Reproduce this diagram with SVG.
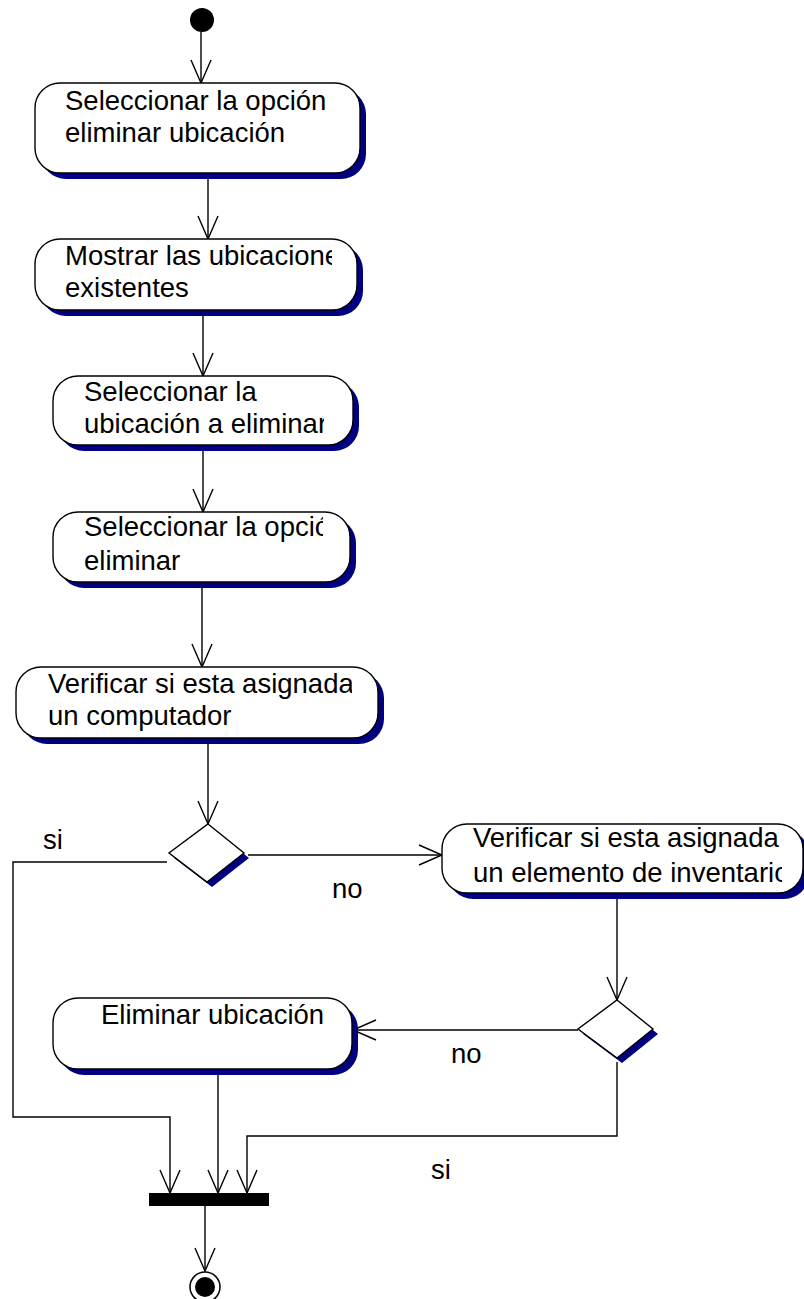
<svg xmlns="http://www.w3.org/2000/svg" width="804" height="1299" viewBox="0 0 804 1299">
<style>
.node{fill:#fff;stroke:#000;stroke-width:1.4}
.shadow{fill:#000080;stroke:none}
.t{font-family:"Liberation Sans",Arial,sans-serif;font-size:27.5px;fill:#000}
.c{fill:none;stroke:#000;stroke-width:1.4}
</style>
<defs>
<marker id="arr" markerUnits="userSpaceOnUse" markerWidth="30" markerHeight="26" viewBox="-25 -13 30 26" refX="0" refY="0" orient="auto" overflow="visible">
<path d="M-23,-10 L0,0 L-23,10" fill="none" stroke="#000" stroke-width="1.4"/>
</marker>
<clipPath id="c1"><rect x="35" y="83" width="300" height="90"/></clipPath>
<clipPath id="c2"><rect x="35" y="239" width="297" height="71"/></clipPath>
<clipPath id="c3"><rect x="53" y="376" width="271" height="69"/></clipPath>
<clipPath id="c4"><rect x="53" y="512" width="270" height="70"/></clipPath>
<clipPath id="c5"><rect x="16" y="667" width="336" height="71"/></clipPath>
<clipPath id="c6"><rect x="442" y="824" width="340" height="69"/></clipPath>
<clipPath id="c7"><rect x="53" y="998" width="280" height="71"/></clipPath>
</defs>

<g id="connectors">
<path class="c" d="M201,32 L201,83" marker-end="url(#arr)"/>
<path class="c" d="M208,173 L208,239" marker-end="url(#arr)"/>
<path class="c" d="M203,310 L203,376" marker-end="url(#arr)"/>
<path class="c" d="M203,445 L203,512" marker-end="url(#arr)"/>
<path class="c" d="M202,582 L202,667" marker-end="url(#arr)"/>
<path class="c" d="M208,738 L208,824" marker-end="url(#arr)"/>
<path class="c" d="M248,855 L442,855" marker-end="url(#arr)"/>
<path class="c" d="M167,862 L13,862 L13,1117 L170,1117 L170,1193" marker-end="url(#arr)"/>
<path class="c" d="M617,893 L617,1000" marker-end="url(#arr)"/>
<path class="c" d="M578,1030 L353,1030" marker-end="url(#arr)"/>
<path class="c" d="M218,1069 L218,1193" marker-end="url(#arr)"/>
<path class="c" d="M617,1062 L617,1136 L247,1136 L247,1193" marker-end="url(#arr)"/>
<path class="c" d="M205,1206 L205,1271" marker-end="url(#arr)"/>
</g>

<g id="labels">
<text class="t" x="43" y="849">si</text>
<text class="t" x="332" y="898">no</text>
<text class="t" x="451" y="1063">no</text>
<text class="t" x="431" y="1179">si</text>
</g>

<g id="start">
<circle cx="202" cy="20" r="12" fill="#000"/>
</g>

<g id="n1">
<rect class="shadow" x="41" y="89" width="325" height="90" rx="25"/>
<rect class="node" x="35" y="83" width="325" height="90" rx="25"/>
<g clip-path="url(#c1)">
<text class="t" x="65" y="110">Seleccionar la opción</text>
<text class="t" x="65" y="142">eliminar ubicación</text>
</g>
</g>

<g id="n2">
<rect class="shadow" x="41" y="245" width="322" height="71" rx="25"/>
<rect class="node" x="35" y="239" width="322" height="71" rx="25"/>
<g clip-path="url(#c2)">
<text class="t" x="65" y="265">Mostrar las ubicaciones</text>
<text class="t" x="65" y="297">existentes</text>
</g>
</g>

<g id="n3">
<rect class="shadow" x="59" y="382" width="300" height="69" rx="25"/>
<rect class="node" x="53" y="376" width="300" height="69" rx="25"/>
<g clip-path="url(#c3)">
<text class="t" x="84" y="401">Seleccionar la</text>
<text class="t" x="84" y="433">ubicación a eliminar</text>
</g>
</g>

<g id="n4">
<rect class="shadow" x="59" y="518" width="297" height="70" rx="25"/>
<rect class="node" x="53" y="512" width="297" height="70" rx="25"/>
<g clip-path="url(#c4)">
<text class="t" x="84" y="536">Seleccionar la opción</text>
<text class="t" x="84" y="570">eliminar</text>
</g>
</g>

<g id="n5">
<rect class="shadow" x="22" y="673" width="362" height="71" rx="25"/>
<rect class="node" x="16" y="667" width="362" height="71" rx="25"/>
<g clip-path="url(#c5)">
<text class="t" x="48" y="693">Verificar si esta asignada</text>
<text class="t" x="48" y="725">un computador</text>
</g>
</g>

<g id="d1">
<polygon class="shadow" points="213,829 249,858 212,887 174,858"/>
<polygon class="node" points="208,824 244,853 207,882 169,853"/>
</g>

<g id="n6">
<rect class="shadow" x="448" y="830" width="361" height="69" rx="25"/>
<rect class="node" x="442" y="824" width="361" height="69" rx="25"/>
<g clip-path="url(#c6)">
<text class="t" x="473" y="847">Verificar si esta asignada</text>
<text class="t" x="473" y="882">un elemento de inventario</text>
</g>
</g>

<g id="d2">
<polygon class="shadow" points="622,1005 658,1034 622,1063 583,1034"/>
<polygon class="node" points="617,1000 653,1029 617,1058 578,1029"/>
</g>

<g id="n7">
<rect class="shadow" x="59" y="1004" width="299" height="71" rx="25"/>
<rect class="node" x="53" y="998" width="299" height="71" rx="25"/>
<g clip-path="url(#c7)">
<text class="t" x="101" y="1024">Eliminar ubicación</text>
</g>
</g>

<g id="fork">
<rect x="149" y="1193" width="120" height="13" fill="#000"/>
</g>

<g id="end">
<circle cx="205" cy="1287" r="15" fill="#fff" stroke="#000" stroke-width="1.5"/>
<circle cx="205" cy="1287" r="10" fill="#000"/>
</g>
</svg>
